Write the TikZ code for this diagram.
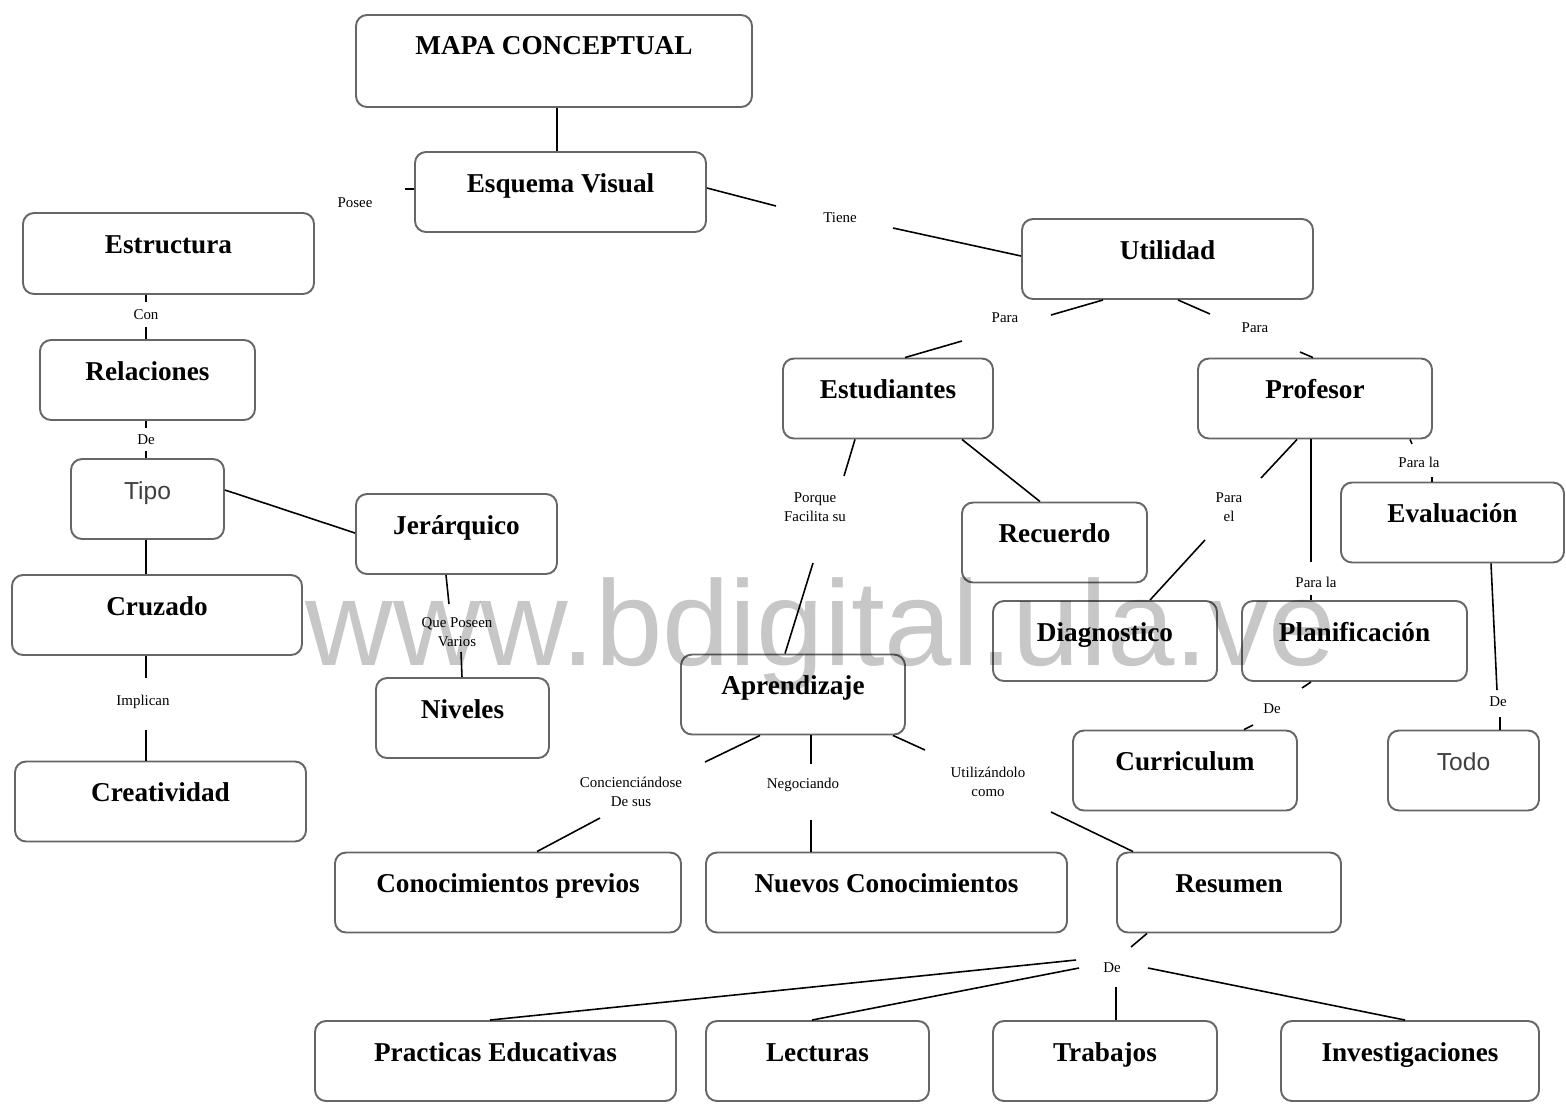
\documentclass[tikz,border=0pt]{standalone}
\usepackage{fontspec}
\setmainfont{Liberation Serif}
\newfontfamily\sansf{Liberation Sans}
\newcommand\cbox[7][]{\node[box,#7,#1,minimum width={(#4-#2)*0.02cm},minimum height={(#5-#3)*0.02cm}] (#2#3) at ({(#2+#4)/2},{(#3+#5)/2}) {};}
\begin{document}
\begin{tikzpicture}[x=0.02cm,y=-0.02cm,
  box/.style={draw=black!60, line width=1.1pt, rounded corners=0.22cm, inner sep=0pt,
    text height=0.8cm, text depth=0.8cm, font=\fontsize{15.5}{18}\selectfont\bfseries},
  lighttext/.style={font=\fontsize{14}{16}\selectfont\sansf\mdseries, text=black!75},
  lbl/.style={font=\fontsize{8.5}{11}\selectfont, align=center, inner sep=1pt},
  con/.style={draw=black, line width=0.9pt}]
\useasboundingbox (0,0) rectangle (1566,1107);
% boxes: name, left, top, right, bottom
\newcommand\bx[7][]{\node[box,#1,minimum width={(#5-#3)*0.02cm},minimum height={(#6-#4)*0.02cm}] (#2) at ({(#3+#5)/2},{(#4+#6)/2}) {#7};}
\bx[text height=0.78cm,text depth=1.06cm]{mapa}{356}{15}{752}{107}{MAPA CONCEPTUAL}
\bx{esq}{415}{152}{706}{232}{Esquema Visual}
\bx{estr}{23}{213}{314}{294}{Estructura}
\bx{util}{1022}{219}{1313}{299}{Utilidad}
\bx{rel}{40}{340}{255}{420}{Relaciones}
\bx{estu}{783}{359}{993}{438}{Estudiantes}
\bx{prof}{1198}{359}{1432}{438}{Profesor}
\bx[lighttext]{tipo}{71}{459}{224}{539}{Tipo}
\bx{jer}{356}{494}{557}{574}{Jerárquico}
\bx{eval}{1341}{483}{1564}{562}{Evaluación}
\bx{rec}{962}{503}{1147}{582}{Recuerdo}
\bx{cruz}{12}{575}{302}{655}{Cruzado}
\bx{diag}{993}{601}{1217}{681}{Diagnostico}
\bx{plan}{1242}{601}{1467}{681}{Planificación}
\bx{apr}{681}{655}{905}{734}{Aprendizaje}
\bx{niv}{376}{678}{549}{758}{Niveles}
\bx{curr}{1073}{731}{1297}{810}{Curriculum}
\bx[lighttext]{todo}{1388}{731}{1539}{810}{Todo}
\bx{crea}{15}{762}{306}{841}{Creatividad}
\bx{cprev}{335}{853}{681}{932}{Conocimientos previos}
\bx{nuev}{706}{853}{1067}{932}{Nuevos Conocimientos}
\bx{res}{1117}{853}{1341}{932}{Resumen}
\bx{prac}{315}{1021}{676}{1101}{Practicas Educativas}
\bx{lect}{706}{1021}{929}{1101}{Lecturas}
\bx{trab}{993}{1021}{1217}{1101}{Trabajos}
\bx{inv}{1281}{1021}{1539}{1101}{Investigaciones}
% labels
\node[lbl] (lposee) at (355,203) {Posee};
\node[lbl] (ltiene) at (840,218) {Tiene};
\node[lbl] (lcon) at (146,315) {Con};
\node[lbl] (lde1) at (146,440) {De};
\node[lbl] (limpl) at (143,702) {Implican};
\node[lbl] (lque) at (457,632) {Que Poseen\\Varios};
\node[lbl] (lpara1) at (1005,318) {Para};
\node[lbl] (lpara2) at (1255,328) {Para};
\node[lbl] (lporq) at (815,507) {Porque\\Facilita su};
\node[lbl] (lparael) at (1229,507) {Para\\el};
\node[lbl] (lparala1) at (1419,462) {Para la};
\node[lbl] (lparala2) at (1316,582) {Para la};
\node[lbl] (lde2) at (1272,709) {De};
\node[lbl] (lde3) at (1498,702) {De};
\node[lbl] (lconc) at (631,792) {Concienciándose\\De sus};
\node[lbl] (lneg) at (803,785) {Negociando};
\node[lbl] (lutil) at (988,782) {Utilizándolo\\como};
\node[lbl] (lde4) at (1112,968) {De};
% free ends
\coordinate (k1) at (405,189);
\coordinate (k2) at (776,206);
\coordinate (k3) at (893,228);
\coordinate (k4) at (146,302);
\coordinate (k5) at (146,327);
\coordinate (k6) at (146,428);
\coordinate (k7) at (146,451);
\coordinate (k8) at (146,678);
\coordinate (k9) at (146,730);
\coordinate (k10) at (449,604);
\coordinate (k11) at (461,652);
\coordinate (k12) at (1051,315);
\coordinate (k13) at (962,341);
\coordinate (k14) at (1210,314);
\coordinate (k15) at (1300,352);
\coordinate (k16) at (844,476);
\coordinate (k17) at (813,563);
\coordinate (k18) at (1261,478);
\coordinate (k19) at (1205,540);
\coordinate (k20) at (1311,562);
\coordinate (k21) at (1311,595);
\coordinate (k22) at (1412,444);
\coordinate (k23) at (1432,477);
\coordinate (k24) at (1302,688);
\coordinate (k25) at (1253,725);
\coordinate (k26) at (1497,690);
\coordinate (k27) at (1500,717);
\coordinate (k28) at (705,762);
\coordinate (k29) at (600,818);
\coordinate (k30) at (811,764);
\coordinate (k31) at (811,820);
\coordinate (k32) at (925,750);
\coordinate (k33) at (1051,812);
\coordinate (k34) at (1131,947);
\coordinate (k35) at (1076,960);
\coordinate (k36) at (1079,968);
\coordinate (k37) at (1116,987);
\coordinate (k38) at (1148,968);
% connectors
\draw[con] (mapa.south -| 557,0) -- (esq.north -| 557,0);
\draw[con] (esq.west |- k1) -- (k1);
\draw[con] (esq.east |- 0,188) -- (k2);
\draw[con] (k3) -- (util.west |- 0,256);
\draw[con] (estr.south -| k4) -- (k4);
\draw[con] (k5) -- (rel.north -| k5);
\draw[con] (rel.south -| k6) -- (k6);
\draw[con] (k7) -- (tipo.north -| k7);
\draw[con] (tipo.east |- 0,490) -- (jer.west |- 0,533);
\draw[con] (tipo.south -| 146,0) -- (cruz.north -| 146,0);
\draw[con] (cruz.south -| k8) -- (k8);
\draw[con] (k9) -- (crea.north -| k9);
\draw[con] (jer.south -| 446,0) -- (k10);
\draw[con] (k11) -- (niv.north -| 462,0);
\draw[con] (util.south -| 1103,0) -- (k12);
\draw[con] (k13) -- (estu.north -| 905,0);
\draw[con] (util.south -| 1178,0) -- (k14);
\draw[con] (k15) -- (prof.north -| 1313,0);
\draw[con] (estu.south -| 855,0) -- (k16);
\draw[con] (k17) -- (apr.north -| 785,0);
\draw[con] (estu.south -| 962,0) -- (rec.north -| 1040,0);
\draw[con] (prof.south -| 1297,0) -- (k18);
\draw[con] (k19) -- (diag.north -| 1150,0);
\draw[con] (prof.south -| k20) -- (k20);
\draw[con] (k21) -- (plan.north -| k21);
\draw[con] (prof.south -| 1410,0) -- (k22);
\draw[con] (k23) -- (eval.north -| k23);
\draw[con] (plan.south -| 1311,0) -- (k24);
\draw[con] (k25) -- (curr.north -| 1244,0);
\draw[con] (eval.south -| 1491,0) -- (k26);
\draw[con] (k27) -- (todo.north -| k27);
\draw[con] (apr.south -| 760,0) -- (k28);
\draw[con] (k29) -- (cprev.north -| 537,0);
\draw[con] (apr.south -| k30) -- (k30);
\draw[con] (k31) -- (nuev.north -| k31);
\draw[con] (apr.south -| 893,0) -- (k32);
\draw[con] (k33) -- (res.north -| 1133,0);
\draw[con] (res.south -| 1147,0) -- (k34);
\draw[con] (k35) -- (prac.north -| 490,0);
\draw[con] (k36) -- (lect.north -| 812,0);
\draw[con] (k37) -- (trab.north -| k37);
\draw[con] (k38) -- (inv.north -| 1405,0);
% watermark
\node[font=\fontsize{69}{70}\selectfont\sansf, text=black, opacity=0.22, anchor=base, inner sep=0pt] (wm) at (821,665) {www.bdigital.ula.ve};
\end{tikzpicture}
\end{document}
